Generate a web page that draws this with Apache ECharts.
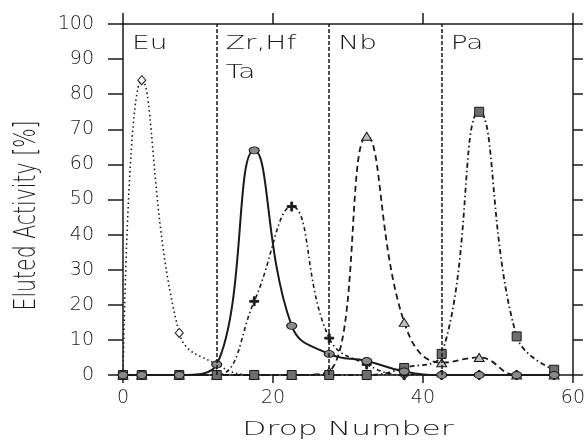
<!DOCTYPE html>
<html>
<head>
<meta charset="utf-8">
<script src="https://cdn.jsdelivr.net/npm/echarts@6/dist/echarts.min.js"></script>
<style>
  html, body { margin: 0; padding: 0; background: #fff; }
  #chart { width: 588px; height: 441px; }
</style>
</head>
<body>
<div id="chart"></div>
<script>
// Drop numbers at which the eluate fractions were counted
const drops = [0, 2.5, 7.5, 12.5, 17.5, 22.5, 27.5, 32.5, 37.5, 42.5, 47.5, 52.5, 57.5];

// Eluted activity [%] per element
const eu   = [0, 84, 12, 3, 0, 0, 0, 0, 0, 0, 0, 0, 0];
const zrHf = [0, 0, 0, 3, 64, 14, 6, 4, 1, 0, 0, 0, 0];
const ta   = [0, 0, 0, 0, 21, 48, 10.5, 3, 0, 0, 0, 0, 0];
const nb   = [0, 0, 0, 0, 0, 0, 1, 68, 15, 3.5, 5, 0, 0];
const pa   = [0, 0, 0, 0, 0, 0, 0, 0, 2, 6, 75, 11, 1.5];

// Fraction boundaries (drop numbers) and the element collected in each fraction
const fractionStarts = [0, 12.5, 27.5, 42.5];
const fractionLabels = ['Eu', 'Zr,Hf\nTa', 'Nb', 'Pa'];

// Axis ranges
const xRange = { min: 0, max: 60, step: 20 };
const yRange = { min: 0, max: 100, step: 10 };

const ink = '#1a1a1a';
const tickFont = { fontFamily: 'DejaVu Sans', fontSize: 19, fontWeight: 200, color: ink };
const plusPath = 'path://M4,0H6V4H10V6H6V10H4V6H0V4H4Z';

function pairs(values) {
  return drops.map((d, i) => [d, values[i]]);
}

function curve(name, values, dash, symbol, size, fill, width) {
  return {
    name: name,
    type: 'line',
    smooth: 0.45,
    data: pairs(values),
    symbol: symbol,
    symbolSize: size,
    showAllSymbol: true,
    itemStyle: { color: fill, borderColor: ink, borderWidth: 1 },
    lineStyle: { color: ink, width: width || 1.5, type: dash },
    z: 3
  };
}

const chart = echarts.init(document.getElementById('chart'), null, { renderer: 'canvas' });

// Zr,Hf goes last so its ellipse markers sit on top along the baseline
const series = [
  curve('Eu', eu, [1.5, 3], 'diamond', [8, 9], '#fff', 1.6),
  curve('Ta', ta, [4, 3, 1.5, 3], plusPath, 9, ink, 1.6),
  curve('Nb', nb, [6, 4], 'triangle', [10, 8], '#bdbdbd', 1.8),
  curve('Pa', pa, [5, 3, 1.5, 3], 'rect', [9, 9], '#6e6e6e', 1.8),
  curve('Zr,Hf', zrHf, 'solid', 'circle', [10, 7], '#8a8a8a', 2)
];

// dashed separators between the collected fractions
series[0].markLine = {
  silent: true,
  symbol: 'none',
  label: { show: false },
  lineStyle: { color: ink, width: 1.5, type: [4, 2] },
  data: fractionStarts.slice(1).map(v => ({ xAxis: v }))
};

const frameLine = { show: true, onZero: false, lineStyle: { color: ink, width: 1.5 } };

chart.setOption({
  animation: false,
  backgroundColor: '#fff',
  grid: { left: 123, right: 10, top: 24, bottom: 66 },
  xAxis: [
    {
      type: 'value', position: 'bottom', min: xRange.min, max: xRange.max, interval: xRange.step,
      axisLine: frameLine,
      axisTick: { show: true, length: 8, lineStyle: { color: ink, width: 1.5 } },
      axisLabel: Object.assign({ margin: 14 }, tickFont),
      splitLine: { show: false }
    },
    {
      type: 'value', position: 'top', min: xRange.min, max: xRange.max, interval: xRange.step,
      axisLine: frameLine,
      axisTick: { show: true, length: 11, lineStyle: { color: ink, width: 1.5 } },
      axisLabel: { show: false },
      splitLine: { show: false }
    }
  ],
  yAxis: [
    {
      type: 'value', position: 'left', min: yRange.min, max: yRange.max, interval: yRange.step,
      axisLine: frameLine,
      axisTick: { show: true, length: 15, lineStyle: { color: ink, width: 1.5 } },
      axisLabel: Object.assign({ margin: 29 }, tickFont),
      splitLine: { show: false }
    },
    {
      type: 'value', position: 'right', min: yRange.min, max: yRange.max, interval: yRange.step,
      axisLine: frameLine,
      axisTick: { show: true, length: 10, lineStyle: { color: ink, width: 1.5 } },
      axisLabel: { show: false },
      splitLine: { show: false }
    }
  ],
  series: series
});

// Axis titles and fraction labels, placed from the chart's own scales
const xLeft = chart.convertToPixel({ xAxisIndex: 0 }, xRange.min);
const xRight = chart.convertToPixel({ xAxisIndex: 0 }, xRange.max);
const yTop = chart.convertToPixel({ yAxisIndex: 0 }, yRange.max);
const yBottom = chart.convertToPixel({ yAxisIndex: 0 }, yRange.min);

const graphics = [
  {
    type: 'text',
    x: 27, y: (yTop + yBottom) / 2 + 16,
    rotation: Math.PI / 2,
    scaleX: 0.66,
    style: {
      text: 'Eluted Activity [%]',
      font: '200 31px "DejaVu Sans"',
      fill: ink,
      align: 'center',
      verticalAlign: 'middle'
    }
  },
  {
    type: 'text',
    x: (xLeft + xRight) / 2, y: yBottom + 55,
    scaleX: 1.65,
    style: {
      text: 'Drop Number',
      font: '200 19px "DejaVu Sans"',
      fill: ink,
      align: 'center',
      verticalAlign: 'middle'
    }
  }
];

fractionStarts.forEach((start, i) => {
  graphics.push({
    type: 'text',
    x: chart.convertToPixel({ xAxisIndex: 0 }, start) + 9,
    y: yTop + 5,
    scaleX: 1.4,
    style: {
      text: fractionLabels[i],
      font: '200 20px "DejaVu Sans"',
      lineHeight: 29,
      fill: ink,
      align: 'left',
      verticalAlign: 'top'
    }
  });
});

chart.setOption({ graphic: graphics });
</script>
</body>
</html>
